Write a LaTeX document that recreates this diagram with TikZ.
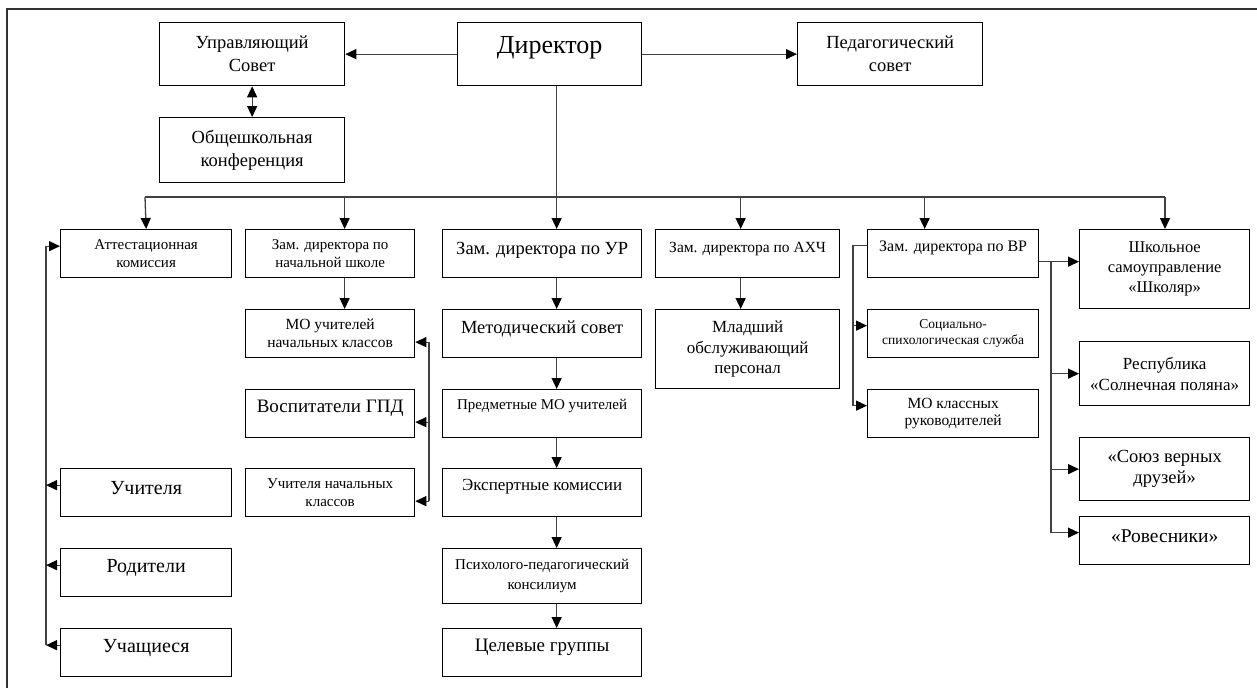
\documentclass[tikz,border=0pt]{standalone}
\usepackage{fontspec}
\setmainfont{Liberation Serif}
\usetikzlibrary{arrows.meta}
\newcommand{\fsz}[2]{\fontsize{#1}{#2}\selectfont}

\begin{document}
\begin{tikzpicture}[x=1pt,y=-1pt,
  blk/.style={draw, line width=1.3pt, anchor=north west, align=center, inner sep=2pt},
  lift/.style={text depth=#1pt},
  ln/.style={line width=1.3pt, black!75},
  arr/.style={ln, -{Triangle[length=11pt,width=10pt,color=black]}}]
  \useasboundingbox (0,0) rectangle (1257,688);
  \draw[line width=2pt, black!80] (7,688) -- (7,9) -- (1257,9);

  % top row
  \node[blk, minimum width=185pt, minimum height=63pt, font=\fsz{18.5}{23}] (uprs) at (159,22) {Управляющий\\Совет};
  \node[blk, minimum width=184pt, minimum height=63pt, font=\fsz{26}{30}, lift=18] (dir) at (457,22) {Директор};
  \node[blk, minimum width=185pt, minimum height=63pt, font=\fsz{18.5}{23}] (pedsov) at (797,22) {Педагогический\\совет};
  \node[blk, minimum width=185pt, minimum height=65pt, font=\fsz{18.5}{23}] (konf) at (159,117) {Общешкольная\\конференция};

  % left columns
  \node[blk, minimum width=171pt, minimum height=48pt, font=\fsz{15}{18}] (attest) at (60,229) {Аттестационная\\комиссия};
  \node[blk, minimum width=171pt, minimum height=48pt, font=\fsz{20}{24}, lift=10] (uchit) at (60,468) {Учителя};
  \node[blk, minimum width=171pt, minimum height=48pt, font=\fsz{20}{24}, lift=14] (rodit) at (60,548) {Родители};
  \node[blk, minimum width=171pt, minimum height=48pt, font=\fsz{20}{24}, lift=13] (uchash) at (60,628) {Учащиеся};
  \node[blk, minimum width=169pt, minimum height=48pt, font=\fsz{15}{18}] (znach) at (245,229) {Зам. директора по\\начальной школе};
  \node[blk, minimum width=169pt, minimum height=48pt, font=\fsz{15.5}{18}] (monach) at (245,309) {МО учителей\\начальных классов};
  \node[blk, minimum width=169pt, minimum height=48pt, font=\fsz{19}{23}, lift=14] (gpd) at (245,389) {Воспитатели ГПД};
  \node[blk, minimum width=169pt, minimum height=48pt, font=\fsz{15}{18}] (uchnach) at (245,468) {Учителя начальных\\классов};

  % middle column
  \node[blk, minimum width=199pt, minimum height=48pt, font=\fsz{18.5}{22}, lift=10] (zur) at (442,229) {Зам. директора по УР};
  \node[blk, minimum width=199pt, minimum height=48pt, font=\fsz{18.5}{22}, lift=12] (metsov) at (442,309) {Методический совет};
  \node[blk, minimum width=199pt, minimum height=48pt, font=\fsz{15}{18}, lift=19] (predmo) at (442,389) {Предметные МО учителей};
  \node[blk, minimum width=199pt, minimum height=48pt, font=\fsz{17}{20}, lift=15] (ekspert) at (442,468) {Экспертные комиссии};
  \node[blk, minimum width=199pt, minimum height=55pt, font=\fsz{15}{20}] (ppk) at (442,548) {Психолого-педагогический\\консилиум};
  \node[blk, minimum width=199pt, minimum height=48pt, font=\fsz{19}{23}, lift=14] (celgr) at (442,628) {Целевые группы};
  \node[blk, minimum width=184pt, minimum height=48pt, font=\fsz{15.5}{19}, lift=13] (zahch) at (655,229) {Зам. директора по АХЧ};
  \node[blk, minimum width=184pt, minimum height=79pt, font=\fsz{17}{20.5}] (mop) at (655,309) {Младший\\обслуживающий\\персонал};

  % right columns
  \node[blk, minimum width=171pt, minimum height=48pt, font=\fsz{16}{19}, lift=15] (zvr) at (867,229) {Зам. директора по ВР};
  \node[blk, minimum width=171pt, minimum height=48pt, font=\fsz{13.5}{16}] (socps) at (867,309) {Социально-\\спихологическая служба};
  \node[blk, minimum width=171pt, minimum height=48pt, font=\fsz{15.5}{17.5}] (mokl) at (867,389) {МО классных\\руководителей};
  \node[blk, minimum width=170pt, minimum height=79pt, font=\fsz{16.5}{20}] (shkol) at (1079,229) {Школьное\\самоуправление\\«Школяр»};
  \node[blk, minimum width=170pt, minimum height=64pt, font=\fsz{17}{21}] (respub) at (1079,341) {Республика\\«Солнечная поляна»};
  \node[blk, minimum width=170pt, minimum height=63pt, font=\fsz{18.5}{21}] (soyuz) at (1079,437) {«Союз верных\\друзей»};
  \node[blk, minimum width=170pt, minimum height=48pt, font=\fsz{19.5}{23}, lift=10] (roves) at (1079,516) {«Ровесники»};

  \coordinate (busL) at (145,197);
  \coordinate (busR) at (1165,197);
  \coordinate (brL) at (46,0);
  \coordinate (brR) at (429,0);
  \coordinate (brV) at (853,0);
  \coordinate (brS) at (1051,0);

  % director links
  \draw[arr] (dir.west) -- (uprs.east);
  \draw[arr] (dir.east) -- (pedsov.west);
  \draw[ln, {Triangle[length=11pt,width=10pt,color=black]}-{Triangle[length=11pt,width=10pt,color=black]}] (uprs.south) -- (konf.north);
  \draw[ln] ([xshift=7pt]dir.south) -- ([xshift=7pt]dir.south |- busL);
  \draw[ln] (busL) -- (busR);
  \draw[arr] (busL) -- (attest.north);
  \draw[arr] ([xshift=14.5pt]znach.north |- busL) -- ([xshift=14.5pt]znach.north);
  \draw[arr] ([xshift=14.5pt]zur.north |- busL) -- ([xshift=14.5pt]zur.north);
  \draw[arr] ([xshift=-7pt]zahch.north |- busL) -- ([xshift=-7pt]zahch.north);
  \draw[arr] ([xshift=-28.5pt]zvr.north |- busL) -- ([xshift=-28.5pt]zvr.north);
  \draw[arr] (busR) -- (busR |- shkol.north);

  % chains
  \draw[arr] ([xshift=14.5pt]znach.south) -- ([xshift=14.5pt]monach.north);
  \foreach \a/\b in {zur/metsov, metsov/predmo, predmo/ekspert, ekspert/ppk, ppk/celgr}
    \draw[arr] ([xshift=14.5pt]\a.south) -- ([xshift=14.5pt]\b.north);
  \draw[arr] ([xshift=-7pt]zahch.south) -- ([xshift=-7pt]mop.north);

  % left bracket
  \draw[arr] ([yshift=7.5pt]uchash.west -| brL) -- ([yshift=7.5pt]attest.west -| brL) -- ([yshift=7.5pt]attest.west);
  \foreach \n in {uchit,rodit,uchash}
    \draw[arr] ([yshift=7.5pt]\n.west) -- ([yshift=7.5pt]\n.west -| brL);

  % bracket at primary school
  \draw[ln] ([yshift=-8.5pt]monach.east -| brR) -- ([yshift=-8.5pt]uchnach.east -| brR);
  \foreach \n in {monach,gpd,uchnach}
    \draw[arr] ([yshift=-8.5pt]\n.east -| brR) -- ([yshift=-8.5pt]\n.east);

  % deputy for upbringing
  \draw[ln] ([yshift=8pt]zvr.west) -- ([yshift=8pt]zvr.west -| brV) -- ([yshift=8pt]mokl.west -| brV);
  \foreach \n in {socps,mokl}
    \draw[arr] ([yshift=8pt]\n.west -| brV) -- ([yshift=8pt]\n.west);
  \draw[arr] ([yshift=-8pt]zvr.east) -- ([yshift=-8pt]zvr.east -| shkol.west);
  \draw[ln] ([yshift=-8pt]zvr.east -| brS) -- ([yshift=8pt]roves.west -| brS);
  \draw[arr] (respub.west -| brS) -- (respub.west);
  \draw[arr] (soyuz.west -| brS) -- (soyuz.west);
  \draw[arr] ([yshift=8pt]roves.west -| brS) -- ([yshift=8pt]roves.west);
\end{tikzpicture}
\end{document}
